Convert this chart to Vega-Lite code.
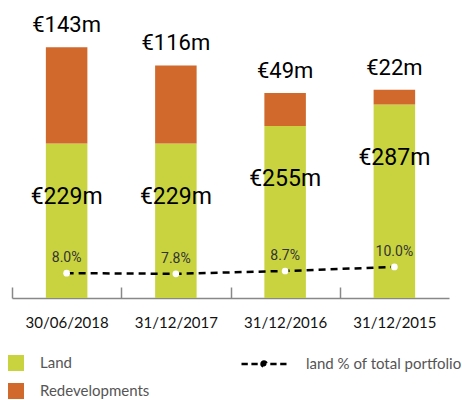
{
  "$schema": "https://vega.github.io/schema/vega-lite/v6.json",
  "autosize": {"type": "none"},
  "width": 437,
  "height": 298,
  "padding": {"left": 12, "top": 0, "right": 13, "bottom": 102},
  "background": "white",
  "datasets": {
    "bars": [
      {"date": "30/06/2018", "category": "Land", "value": 229, "label": "€229m"},
      {"date": "30/06/2018", "category": "Redevelopments", "value": 143, "label": "€143m"},
      {"date": "31/12/2017", "category": "Land", "value": 229, "label": "€229m"},
      {"date": "31/12/2017", "category": "Redevelopments", "value": 116, "label": "€116m"},
      {"date": "31/12/2016", "category": "Land", "value": 255, "label": "€255m"},
      {"date": "31/12/2016", "category": "Redevelopments", "value": 49, "label": "€49m"},
      {"date": "31/12/2015", "category": "Land", "value": 287, "label": "€287m"},
      {"date": "31/12/2015", "category": "Redevelopments", "value": 22, "label": "€22m"}
    ],
    "pct": [
      {"date": "30/06/2018", "pct": 0.080, "series": "land % of total portfolio"},
      {"date": "31/12/2017", "pct": 0.078, "series": "land % of total portfolio"},
      {"date": "31/12/2016", "pct": 0.087, "series": "land % of total portfolio"},
      {"date": "31/12/2015", "pct": 0.100, "series": "land % of total portfolio"}
    ]
  },
  "encoding": {
    "x": {
      "field": "date",
      "type": "nominal",
      "sort": null,
      "scale": {"paddingInner": 0.62, "paddingOuter": 0.31},
      "axis": {
        "title": null,
        "labelAngle": 0,
        "labelFont": "Lato",
        "labelFontSize": 15,
        "labelColor": "#111",
        "labelPadding": 28,
        "labelOffset": 54.6,
        "domainColor": "#888",
        "domainWidth": 1.5,
        "ticks": true,
        "tickColor": "#888",
        "tickWidth": 1.5,
        "tickSize": -11,
        "tickOffset": -54.6,
        "grid": false
      }
    }
  },
  "layer": [
    {
      "layer": [
        {
          "data": {"name": "bars"},
          "mark": {"type": "bar"},
          "encoding": {
            "y": {"field": "value", "type": "quantitative", "stack": "zero", "scale": {"domain": [0, 442]}, "axis": null},
            "color": {
              "field": "category",
              "type": "nominal",
              "scale": {"domain": ["Land", "Redevelopments"], "range": ["#c9d33f", "#d0692b"]},
              "legend": {
                "title": null,
                "orient": "none",
                "legendX": -4,
                "legendY": 355,
                "symbolType": "square",
                "symbolSize": 256,
                "symbolStrokeWidth": 0,
                "labelFont": "Lato",
                "labelFontSize": 15,
                "labelColor": "#555",
                "labelOffset": 16,
                "rowPadding": 12,
                "direction": "vertical"
              }
            },
            "order": {"field": "category", "sort": "ascending"}
          }
        },
        {
          "data": {"name": "bars"},
          "transform": [
            {"stack": "value", "groupby": ["date"], "sort": [{"field": "category", "order": "ascending"}], "as": ["v0", "v1"]},
            {"filter": "datum.category == 'Land'"}
          ],
          "mark": {"type": "text", "font": "Roboto", "fontSize": 23, "color": "#000", "baseline": "alphabetic", "dy": 60},
          "encoding": {
            "y": {"field": "v1", "type": "quantitative", "scale": {"domain": [0, 442]}, "axis": null},
            "text": {"field": "label"}
          }
        },
        {
          "data": {"name": "bars"},
          "transform": [
            {"stack": "value", "groupby": ["date"], "sort": [{"field": "category", "order": "ascending"}], "as": ["v0", "v1"]},
            {"filter": "datum.category == 'Redevelopments'"}
          ],
          "mark": {"type": "text", "font": "Roboto", "fontSize": 22, "color": "#000", "baseline": "alphabetic", "dy": -15},
          "encoding": {
            "y": {"field": "v1", "type": "quantitative", "scale": {"domain": [0, 442]}, "axis": null},
            "text": {"field": "label"}
          }
        }
      ]
    },
    {
      "data": {"name": "pct"},
      "layer": [
        {
          "mark": {"type": "line", "color": "#000", "strokeWidth": 2.5},
          "encoding": {
            "y": {"field": "pct", "type": "quantitative", "scale": {"domain": [0, 0.96]}, "axis": null},
            "strokeDash": {
              "field": "series",
              "type": "nominal",
              "scale": {"range": [[7, 5]]},
              "legend": {
                "title": null,
                "orient": "none",
                "legendX": 228,
                "legendY": 340,
                "symbolType": "M-1,0H-0.72M-0.56,0H-0.28M0.28,0H0.56M0.72,0H1M-0.11,0A0.11,0.11,0,1,1,0.11,0A0.11,0.11,0,1,1,-0.11,0Z",
                "symbolSize": 2025,
                "symbolStrokeWidth": 2.5,
                "symbolStrokeColor": "#000",
                "symbolFillColor": "#000",
                "symbolDash": [],
                "labelFont": "Lato",
                "labelFontSize": 15,
                "labelColor": "#555",
                "labelOffset": 18
              }
            }
          }
        },
        {
          "mark": {"type": "point", "shape": "circle", "filled": true, "color": "white", "size": 45, "opacity": 1},
          "encoding": {
            "y": {"field": "pct", "type": "quantitative", "scale": {"domain": [0, 0.96]}, "axis": null}
          }
        },
        {
          "mark": {"type": "text", "font": "Roboto", "fontSize": 14, "color": "#333", "baseline": "alphabetic", "dy": -11},
          "encoding": {
            "y": {"field": "pct", "type": "quantitative", "scale": {"domain": [0, 0.96]}, "axis": null},
            "text": {"field": "pct", "type": "quantitative", "format": ".1%"}
          }
        }
      ]
    }
  ],
  "resolve": {"scale": {"y": "independent", "color": "independent", "strokeDash": "independent"}},
  "config": {"view": {"stroke": null}}
}
